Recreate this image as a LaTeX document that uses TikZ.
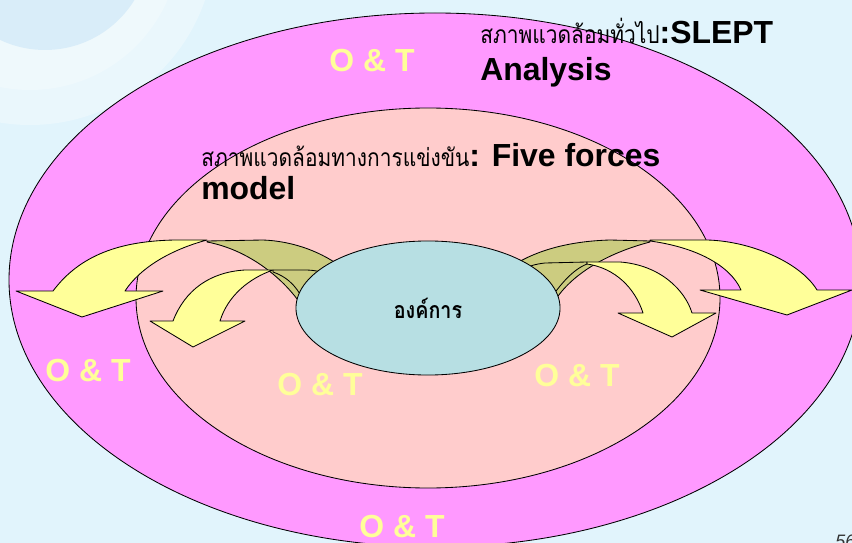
\documentclass[tikz,border=0pt]{standalone}
\usepackage{fontspec}
\setmainfont{Liberation Sans}
\newfontfamily\thaifont[Script=Thai, FakeStretch=0.85]{Loma}
\usetikzlibrary{positioning, shapes.geometric}

\definecolor{bgblue}{HTML}{E1F4FC}
\definecolor{globeblue}{HTML}{C8E4F7}
\definecolor{outerpink}{HTML}{FF99FF}
\definecolor{innerpink}{HTML}{FFCCCC}
\definecolor{orgteal}{HTML}{B7DFE3}
\definecolor{arrowyellow}{HTML}{FFFF99}
\definecolor{arrowolive}{HTML}{CCCC80}

\newcommand{\thaitxt}{\thaifont\mdseries\fontsize{17.5}{20}\selectfont}

\tikzset{
  front/.style={fill=arrowyellow, draw=black, line width=0.6pt, line join=round},
  back/.style={fill=arrowolive, draw=black, line width=0.6pt, line join=round},
  ot/.style={text=arrowyellow, inner sep=0pt, font=\fontsize{22.7}{26}\selectfont\bfseries},
  head/.style={anchor=base west, inner sep=0pt, font=\fontsize{22.7}{26}\selectfont\bfseries}
}

\begin{document}
\begin{tikzpicture}[x=0.025cm, y=-0.025cm]
  \useasboundingbox (0,0) rectangle (852,543);
  \clip (0,0) rectangle (852,543);
  \fill[bgblue] (0,0) rectangle (852,543);

  % faint globe, top left
  \fill[white, opacity=0.3] (30,-60) circle (185);
  \fill[white, opacity=0.25] (30,-60) circle (150);
  \fill[globeblue, opacity=0.55] (45,-55) circle (105);

  % rings
  \filldraw[fill=outerpink, draw=black, line width=0.6pt] (435,280) ellipse [x radius=426, y radius=267];
  \filldraw[fill=innerpink, draw=black, line width=0.6pt] (428,298) ellipse [x radius=292, y radius=190];

  % left arrows
  \filldraw[back] (207,241) -- (263,240) .. controls (290,241) and (318,250) .. (340,266)
    -- (302,306) .. controls (285,280) and (250,250) .. (207,242) -- cycle;
  \filldraw[front] (53,291) .. controls (80,255) and (120,241) .. (175,240) -- (207,240)
    .. controls (170,250) and (140,268) .. (125,291) -- (163,291) -- (82,317) -- (16,291) -- cycle;
  \filldraw[back] (273,270) -- (305,270) .. controls (315,270) and (325,272) .. (335,278)
    -- (305,306) .. controls (300,290) and (290,278) .. (273,272) -- cycle;
  \filldraw[front] (173,321) .. controls (185,290) and (210,272) .. (245,270) -- (273,270)
    .. controls (250,278) and (228,295) .. (220,321) -- (245,321) -- (193,347) -- (150,321) -- cycle;

  % right arrows
  \filldraw[back] (650,241) -- (610,240) .. controls (575,241) and (540,248) .. (512,266)
    -- (552,306) .. controls (565,280) and (600,255) .. (650,242) -- cycle;
  \filldraw[front] (650,240) -- (707,240) .. controls (750,241) and (800,262) .. (817,290)
    -- (852,290) -- (787,315) -- (700,290) -- (741,290) .. controls (730,265) and (695,247) .. (650,241) -- cycle;
  \filldraw[back] (587,262) -- (545,263) .. controls (535,264) and (525,267) .. (512,274)
    -- (548,302) .. controls (560,285) and (572,270) .. (587,264) -- cycle;
  \filldraw[front] (587,262) -- (620,262) .. controls (660,265) and (685,290) .. (692,313)
    -- (716,313) -- (672,337) -- (618,313) -- (643,313) .. controls (635,288) and (615,268) .. (587,264) -- cycle;

  % organisation
  \node[ellipse, draw=black, line width=0.6pt, fill=orgteal, minimum width=6.6cm, minimum height=3.35cm,
        font=\thaifont\bfseries\fontsize{16.5}{18}\selectfont] (org) at (428,308) {องค์การ};

  % labels
  \node[head] (slept) at (480,44) {{\thaitxt สภาพแวดล้อมทั่วไป}:SLEPT};
  \node[head] (sleptb) at (480,81) {Analysis};
  \node[head] (five) at (201,167) {{\thaitxt สภาพแวดล้อมทางการแข่งขัน}: Five forces};
  \node[head] (fiveb) at (201,200) {model};

  \foreach \n/\x/\y in {1/372/61, 2/88/371, 3/320/385, 4/577/376, 5/402/527} {
    \node[ot] (ot\n) at (\x,\y) {O \& T};
  }

  \node[anchor=base west, inner sep=0pt, text=black!80, font=\itshape\fontsize{12.8}{14}\selectfont] (page) at (835,547) {56};
\end{tikzpicture}
\end{document}
